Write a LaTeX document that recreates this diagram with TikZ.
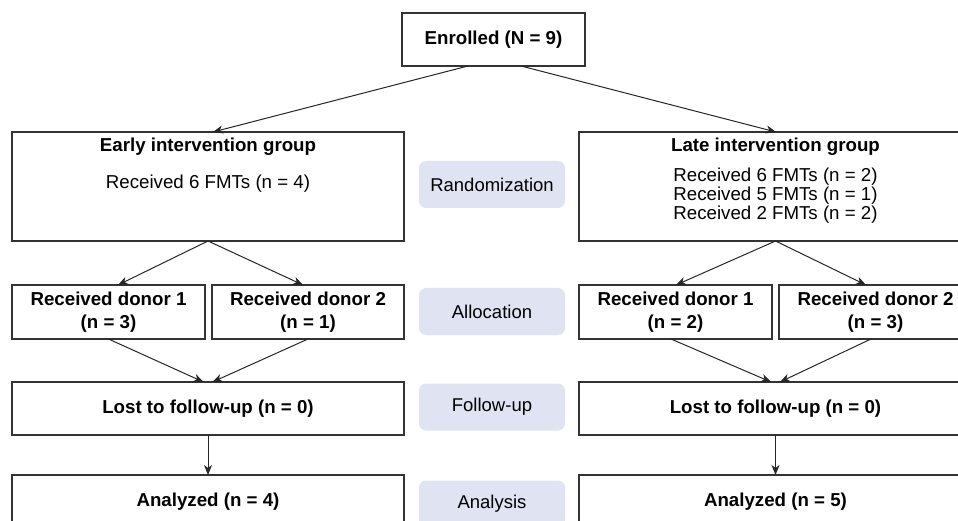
\documentclass[tikz,border=0pt]{standalone}
\usepackage{fontspec}
\setmainfont{Liberation Sans}
\usetikzlibrary{arrows.meta,calc}
\definecolor{edgegray}{HTML}{333333}
\definecolor{pillfill}{HTML}{DFE3F2}
\begin{document}
\begin{tikzpicture}[x=1pt,y=-1pt,
  box/.style={draw=edgegray,line width=1.2pt,fill=white,inner sep=0pt,outer sep=0pt},
  pill/.style={fill=pillfill,rounded corners=7pt,minimum width=146pt,minimum height=47pt,inner sep=0pt,font=\fontsize{18.5}{21}\selectfont},
  txt/.style={inner sep=0pt,font=\fontsize{18.7}{19}\selectfont,align=center},
  btxt/.style={txt,font=\fontsize{18.7}{23}\selectfont\bfseries},
  arr/.style={draw=black!85,line width=1pt,-{Stealth[length=10pt,width=8pt,inset=3pt]}}]
\useasboundingbox (0,0) rectangle (958,521);
\begin{scope}
\clip (0,0) rectangle (958,521);
% top
\node[box,minimum width=183pt,minimum height=53pt,btxt] (enr) at (493.5,39.5) {Enrolled (N = 9)};
% groups
\node[box,minimum width=392pt,minimum height=109pt] (early) at (208,186.5) {};
\node[btxt] (earlyT) at (208,147) {Early intervention group};
\node[txt] (earlyB) at (208,184) {Received 6 FMTs (n = 4)};
\node[box,minimum width=393pt,minimum height=109pt] (late) at (775.5,186.5) {};
\node[btxt] (lateT) at (775.5,147) {Late intervention group};
\node[txt] (lateB) at (775.5,195.5) {Received 6 FMTs (n = 2)\\Received 5 FMTs (n = 1)\\Received 2 FMTs (n = 2)};
% donors
\node[box,minimum width=193pt,minimum height=54pt,btxt] (d1L) at (108.5,312) {Received donor 1\\(n = 3)};
\node[box,minimum width=192pt,minimum height=54pt,btxt] (d2L) at (308,312) {Received donor 2\\(n = 1)};
\node[box,minimum width=193pt,minimum height=54pt,btxt] (d1R) at (675.5,312) {Received donor 1\\(n = 2)};
\node[box,minimum width=193pt,minimum height=54pt,btxt] (d2R) at (875.5,312) {Received donor 2\\(n = 3)};
% lost
\node[box,minimum width=392pt,minimum height=53pt,btxt] (lostL) at (208,408.5) {Lost to follow-up (n = 0)};
\node[box,minimum width=393pt,minimum height=53pt,btxt] (lostR) at (775.5,408.5) {Lost to follow-up (n = 0)};
% analyzed
\node[box,minimum width=392pt,minimum height=53pt,btxt] (anaL) at (208,501.5) {Analyzed (n = 4)};
\node[box,minimum width=393pt,minimum height=53pt,btxt] (anaR) at (775.5,501.5) {Analyzed (n = 5)};
% pills
\node[pill] (p1) at (492,184.5) {Randomization};
\node[pill] (p2) at (492,311.5) {Allocation};
\node[pill] (p3) at (492,407) {Follow-up};
\node[pill] (p4) at (492,504) {Analysis};
% arrows
\draw[arr] ($(enr.south)+(-25.5,0)$) -- ($(early.north)+(5,0)$);
\draw[arr] ($(enr.south)+(27.5,0)$) -- ($(late.north)+(0.5,0)$);
\draw[arr] (early.south) -- ($(d1L.north)+(9.5,0)$);
\draw[arr] (early.south) -- ($(d2L.north)+(-5,0)$);
\draw[arr] (late.south) -- ($(d1R.north)+(0.5,0)$);
\draw[arr] (late.south) -- ($(d2R.north)+(-9.5,0)$);
\draw[arr] (d1L.south) -- ($(lostL.north)+(-4.5,0)$);
\draw[arr] (d2L.south) -- ($(lostL.north)+(4.5,0)$);
\draw[arr] ($(d1R.south)+(-4.5,0)$) -- ($(lostR.north)+(-4.5,0)$);
\draw[arr] ($(d2R.south)+(-4.5,0)$) -- ($(lostR.north)+(4.5,0)$);
\draw[arr] (lostL) -- (anaL);
\draw[arr] (lostR) -- (anaR);
\end{scope}
\end{tikzpicture}
\end{document}
